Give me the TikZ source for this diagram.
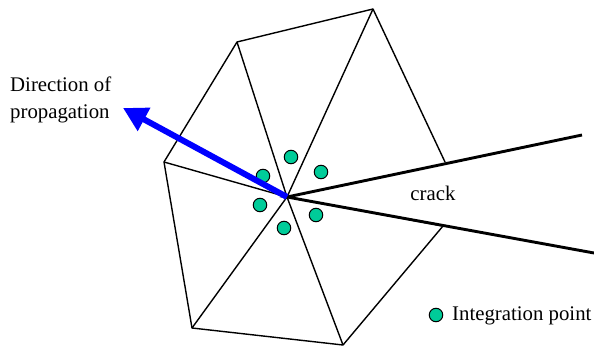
\documentclass[tikz,border=0pt]{standalone}
\usepackage{fontspec}
\setmainfont{Liberation Serif}
\usetikzlibrary{arrows.meta}
\tikzset{
  edgeline/.style={black,line width=1.4pt},
  crackline/.style={black,line width=2.9pt},
  intpoint/.style={circle,draw=black,fill=intgreen,line width=1pt,minimum size=13.5pt,inner sep=0pt},
  labeltext/.style={inner sep=0pt,align=left,font=\fontsize{20.8}{26.5}\selectfont},
  dirarrow/.style={blue,line width=6pt,-{Triangle[length=24pt,width=25pt]}}
}
\definecolor{intgreen}{RGB}{0,204,153}
\begin{document}
\begin{tikzpicture}[x=1pt,y=-1pt]
  \useasboundingbox (0,0) rectangle (594,347);
  % mesh around the tip
  \coordinate (tip) at (287,197);
  \coordinate (v1) at (445,162);
  \coordinate (v2) at (373,9);
  \coordinate (v3) at (237,42);
  \coordinate (v4) at (164,162);
  \coordinate (v5) at (192,328);
  \coordinate (v6) at (343,345);
  \coordinate (v7) at (443,226);
  \draw[edgeline,line join=round] (v1) -- (v2) -- (v3) -- (v4) -- (v5) -- (v6) -- (v7);
  \draw[edgeline] (tip) -- (v2);
  \draw[edgeline] (tip) -- (v3);
  \draw[edgeline] (tip) -- (v4);
  \draw[edgeline] (tip) -- (v5);
  \draw[edgeline] (tip) -- (v6);
  \draw[edgeline] (tip) -- (v7);
  % crack faces
  \coordinate (crackup) at (582,135);
  \coordinate (crackdown) at (594,253);
  \draw[crackline] (crackup) -- (tip) -- (crackdown);
  \node[labeltext] (cracklabel) at (433,193) {crack};
  % integration points
  \node[intpoint] (ip1) at (291,157) {};
  \node[intpoint] (ip2) at (321,172) {};
  \node[intpoint] (ip3) at (263,176) {};
  \node[intpoint] (ip4) at (260,205) {};
  \node[intpoint] (ip5) at (284,228) {};
  \node[intpoint] (ip6) at (316,215) {};
  % propagation
  \coordinate (arrowend) at (123,108);
  \draw[dirarrow] (tip) -- (arrowend);
  \node[labeltext,anchor=west] (dirlabel) at (10,100) {Direction of\\propagation};
  % legend
  \node[intpoint] (legendpt) at (436,315) {};
  \node[labeltext,anchor=west] (legendlabel) at (452,316) {Integration point};
\end{tikzpicture}
\end{document}
